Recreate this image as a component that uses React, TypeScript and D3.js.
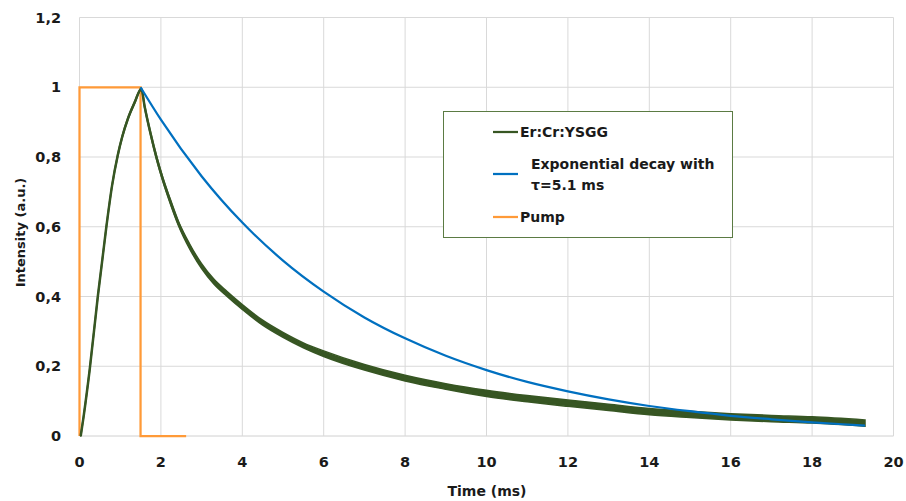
import React from "react";
import * as d3 from "d3";

const W = 906;
const H = 501;

const greenTime = [0.03, 0.1, 0.25, 0.45, 0.66, 0.8, 0.94, 1.05, 1.19, 1.35, 1.52, 1.6, 1.75, 1.9, 2.05, 2.2, 2.43, 2.7, 3.0, 3.3, 3.62, 4.0, 4.5, 5.0, 5.5, 6.0, 7.0, 8.0, 9.0, 10.0, 11.0, 12.0, 13.0, 14.0, 15.0, 16.0, 17.0, 18.0, 19.3];
const greenValue = [0, 0.055, 0.19, 0.4, 0.6, 0.718, 0.805, 0.858, 0.91, 0.955, 0.995, 0.945, 0.865, 0.795, 0.735, 0.683, 0.61, 0.545, 0.487, 0.443, 0.408, 0.37, 0.325, 0.29, 0.26, 0.236, 0.197, 0.166, 0.142, 0.122, 0.107, 0.094, 0.082, 0.07, 0.062, 0.055, 0.05, 0.046, 0.037];
// visible noise half-width of the measured trace
const greenSpread = [0.002, 0.002, 0.002, 0.002, 0.002, 0.002, 0.003, 0.003, 0.003, 0.003, 0.003, 0.004, 0.004, 0.005, 0.005, 0.006, 0.006, 0.007, 0.007, 0.007, 0.007, 0.007, 0.007, 0.007, 0.007, 0.008, 0.008, 0.008, 0.008, 0.009, 0.009, 0.009, 0.009, 0.009, 0.009, 0.009, 0.009, 0.009, 0.009];

// Exponential decay with tau = 5.1 ms
const blueTime = [1.5, 2, 3, 4, 5, 6, 7, 8, 9, 10, 11, 12, 13, 14, 15, 16, 17, 18, 19, 19.3];
const blueValue = [1.0, 0.907, 0.745, 0.612, 0.503, 0.414, 0.34, 0.28, 0.23, 0.189, 0.155, 0.128, 0.105, 0.086, 0.071, 0.058, 0.048, 0.039, 0.032, 0.03];

// Pump pulse
const pumpTime = [0, 0, 1.5, 1.5, 2.62];
const pumpValue = [0, 1, 1, 0, 0];

const xTicks = [0, 2, 4, 6, 8, 10, 12, 14, 16, 18, 20];
const yTicks = [0, 0.2, 0.4, 0.6, 0.8, 1, 1.2];
const yTickLabels = ["0", "0,2", "0,4", "0,6", "0,8", "1", "1,2"];

const legendLabels = ["Er:Cr:YSGG", "Exponential decay with", "τ=5.1 ms", "Pump"];

const GREEN = "#375623";
const BLUE = "#0070C0";
const ORANGE = "#FF9A38";
const GRID = "#D9D9D9";
const FONT = "'DejaVu Sans', sans-serif";

export default function App() {
  const x = d3.scaleLinear().domain([0, 20]).range([79.5, 893.5]);
  const y = d3.scaleLinear().domain([0, 1.2]).range([436, 17.5]);

  const idx = greenTime.map((_, i) => i);
  const band = d3
    .area<number>()
    .x((i) => x(greenTime[i]))
    .y0((i) => y(greenValue[i] - greenSpread[i]))
    .y1((i) => y(greenValue[i] + greenSpread[i]))
    .curve(d3.curveMonotoneX);
  const greenLine = d3
    .line<number>()
    .x((i) => x(greenTime[i]))
    .y((i) => y(greenValue[i]))
    .curve(d3.curveMonotoneX);
  const blueLine = d3
    .line<number>()
    .x((i) => x(blueTime[i]))
    .y((i) => y(blueValue[i]))
    .curve(d3.curveMonotoneX);
  const pumpLine = d3
    .line<number>()
    .x((i) => x(pumpTime[i]))
    .y((i) => y(pumpValue[i]));

  return (
    <svg
      width={W}
      height={H}
      style={{ position: "absolute", left: 0, top: 0, background: "#fff" }}
      fontFamily={FONT}
      fontWeight="bold"
    >
      <rect x={0} y={0} width={W} height={H} fill="#fff" />
      {/* grid */}
      {yTicks.map((t) => (
        <line key={"gy" + t} x1={x(0)} x2={x(20)} y1={y(t)} y2={y(t)} stroke={t === 0 ? "#D0D0D0" : GRID} strokeWidth={1} />
      ))}
      {xTicks.map((t) => (
        <line key={"gx" + t} x1={x(t)} x2={x(t)} y1={y(0)} y2={y(1.2)} stroke={GRID} strokeWidth={1} />
      ))}
      {/* y tick labels */}
      {yTicks.map((t, i) => (
        <text key={"yl" + t} x={61} y={y(t)} dy="0.36em" textAnchor="end" fontSize={14.5} fill="#1a1a1a">
          {yTickLabels[i]}
        </text>
      ))}
      {/* x tick labels */}
      {xTicks.map((t) => (
        <text key={"xl" + t} x={x(t)} y={467} textAnchor="middle" fontSize={14.5} fill="#1a1a1a">
          {t}
        </text>
      ))}
      <text x={487} y={496} textAnchor="middle" fontSize={14} fill="#1a1a1a">
        Time (ms)
      </text>
      <text transform="translate(25,232.5) rotate(-90)" textAnchor="middle" fontSize={13} fill="#1a1a1a">
        Intensity (a.u.)
      </text>

      {/* series */}
      <path d={pumpLine(pumpTime.map((_, i) => i)) || ""} fill="none" stroke={ORANGE} strokeWidth={2.25} />
      <path d={band(idx) || ""} fill={GREEN} stroke={GREEN} strokeWidth={1.5} />
      <path d={greenLine(idx) || ""} fill="none" stroke={GREEN} strokeWidth={2.5} />
      <path d={blueLine(blueTime.map((_, i) => i)) || ""} fill="none" stroke={BLUE} strokeWidth={2.25} />

      {/* legend */}
      <rect x={443.5} y={111.5} width={289} height={126} fill="#fff" stroke="#5B7B43" strokeWidth={1} />
      <line x1={493} x2={518} y1={132} y2={132} stroke={GREEN} strokeWidth={2.25} />
      <text x={520} y={132} dy="0.36em" fontSize={14} fill="#1a1a1a">{legendLabels[0]}</text>
      <line x1={493} x2={518} y1={174} y2={174} stroke={BLUE} strokeWidth={2.25} />
      <text x={531} y={164} dy="0.36em" fontSize={14} fill="#1a1a1a">{legendLabels[1]}</text>
      <text x={531} y={185} dy="0.36em" fontSize={14} fill="#1a1a1a">{legendLabels[2]}</text>
      <line x1={493} x2={518} y1={217} y2={217} stroke={ORANGE} strokeWidth={2.25} />
      <text x={520} y={217} dy="0.36em" fontSize={14} fill="#1a1a1a">{legendLabels[3]}</text>
    </svg>
  );
}
